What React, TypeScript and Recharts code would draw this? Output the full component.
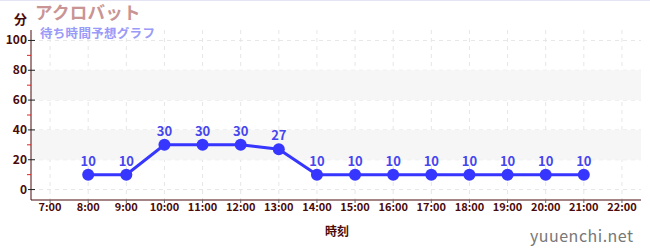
import React from 'react';
import {
    LineChart,
    Line,
    XAxis,
    YAxis,
    CartesianGrid,
    ReferenceArea,
    LabelList
} from 'recharts';

const hours = [8, 9, 10, 11, 12, 13, 14, 15, 16, 17, 18, 19, 20, 21];
const waits = [10, 10, 30, 30, 30, 27, 10, 10, 10, 10, 10, 10, 10, 10];
const xTicks = [7, 8, 9, 10, 11, 12, 13, 14, 15, 16, 17, 18, 19, 20, 21, 22];
const yTicks = [0, 10, 20, 30, 40, 50, 60, 70, 80, 90, 100];
const yGrid = [0, 20, 40, 60, 80, 100];
const bands = [[20, 40], [60, 80]];

const data = hours.map((h, i) => ({ hour: h, wait: waits[i] }));

const FONT = '"Noto Sans CJK JP", "Noto Sans", sans-serif';
const AXIS_COLOR = '#4a0a0a';
const AXIS_X = 31;

// major ticks get a label, odd tens get a small red mark
const YTick = ({ y, payload }: any) => {
    const v = payload.value;
    if (v % 20 !== 0) {
        return <line x1={AXIS_X - 4} x2={AXIS_X} y1={y} y2={y} stroke="#dd2222" strokeWidth={1} />;
    }
    return (
        <g>
            <line x1={AXIS_X - 3} x2={AXIS_X + 4} y1={y} y2={y} stroke="#222" strokeWidth={1} />
            <text x={AXIS_X - 4} y={y} dy={4} textAnchor="end" fontSize={12} fontWeight="bold" fill={AXIS_COLOR} fontFamily={FONT}>
                {v}
            </text>
        </g>
    );
};

const App: React.FC = () => {
    return (
        <div style={{ position: 'absolute', left: 0, top: 0, width: 650, height: 250, background: '#fff', borderTop: '1px solid #e4e4f4', boxSizing: 'border-box', fontFamily: FONT }}>
            <LineChart width={650} height={249} data={data} margin={{ top: 29, right: 9, left: 0, bottom: 20 }}>
                {bands.map(([a, b], i) => (
                    <ReferenceArea key={i} y1={a} y2={b} fill="#f6f6f6" fillOpacity={1} stroke="none" />
                ))}
                <CartesianGrid strokeDasharray="4 4" stroke="#e6e6e6" horizontalValues={yGrid} verticalValues={xTicks} />
                <XAxis
                    dataKey="hour"
                    type="number"
                    domain={[6.5, 22.5]}
                    ticks={xTicks}
                    tickFormatter={(h: number) => `${h}:00`}
                    height={30}
                    stroke={AXIS_COLOR}
                    tickSize={3}
                    tickMargin={0}
                    tickLine={{ stroke: '#666' }}
                    tick={{ fontSize: 11, fontWeight: 'bold', fill: AXIS_COLOR, fontFamily: FONT }}
                    interval={0}
                    allowDataOverflow
                />
                <YAxis
                    type="number"
                    domain={[-7, 107]}
                    ticks={yTicks}
                    width={AXIS_X}
                    stroke={AXIS_COLOR}
                    tickLine={false}
                    tick={<YTick />}
                    interval={0}
                    allowDataOverflow
                />
                <Line
                    dataKey="wait"
                    stroke="#3636ff"
                    strokeWidth={3}
                    dot={{ r: 6, fill: '#3636ff', stroke: 'none' }}
                    activeDot={false}
                    isAnimationActive={false}
                >
                    <LabelList dataKey="wait" position="top" offset={9} fill="#4646ee" fontSize={13} fontWeight="bold" fontFamily={FONT} />
                </Line>
            </LineChart>
            <div style={{ position: 'absolute', left: 14, top: 8, fontSize: 13, fontWeight: 'bold', color: '#4a0a0a' }}>分</div>
            <div style={{ position: 'absolute', left: 35, top: 1, fontSize: 17.5, fontWeight: 'bold', color: '#c89494', lineHeight: '20px', letterSpacing: 0.3 }}>アクロバット</div>
            <div style={{ position: 'absolute', left: 40, top: 25, fontSize: 12.5, fontWeight: 'bold', color: '#9a9af8', lineHeight: '13px', letterSpacing: 0.3 }}>待ち時間予想グラフ</div>
            <div style={{ position: 'absolute', left: 325, top: 221, fontSize: 12, fontWeight: 'bold', color: '#4a0a0a' }}>時刻</div>
            <div style={{ position: 'absolute', left: 530, top: 222, fontSize: 16, color: '#777', letterSpacing: 0.5 }}>yuuenchi.net</div>
        </div>
    );
};

export default App;
